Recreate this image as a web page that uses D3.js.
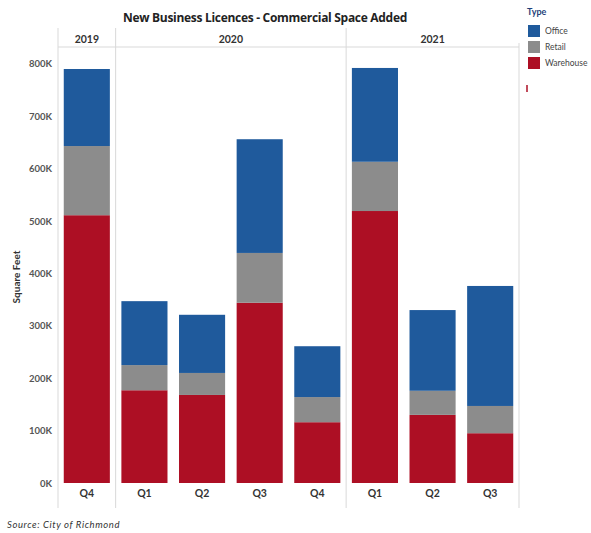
<!DOCTYPE html>
<html>
<head>
<meta charset="utf-8">
<script src="https://cdn.jsdelivr.net/npm/d3@7"></script>
<style>
  html, body { margin: 0; padding: 0; background: #fff; }
  svg { display: block; font-family: Lato, "Open Sans", sans-serif; }
</style>
</head>
<body>
<svg id="chart" width="591" height="533"></svg>
<script>
// Commercial space added through new business licences, by quarter and type (sq ft)
const years = ["2019", "2020", "2020", "2020", "2020", "2021", "2021", "2021"];
const quarters = ["Q4", "Q1", "Q2", "Q3", "Q4", "Q1", "Q2", "Q3"];
const warehouse = [511000, 177000, 168000, 344000, 116000, 519000, 130000, 95000];
const retail = [132000, 48000, 42000, 95000, 48000, 94000, 46000, 52000];
const office = [147000, 122000, 111000, 217000, 97000, 179000, 154000, 229000];
const types = ["Office", "Retail", "Warehouse"];
const typeColors = ["#1f5a9c", "#8c8c8c", "#ad0f24"];
const yTicks = [0, 100000, 200000, 300000, 400000, 500000, 600000, 700000, 800000];

const svg = d3.select("#chart");
const plotLeft = 58, plotRight = 519, plotTop = 47, plotBottom = 483;

const rows = quarters.map((q, i) => ({
  key: i, year: years[i], quarter: q,
  Warehouse: warehouse[i], Retail: retail[i], Office: office[i]
}));

const x = d3.scaleBand().domain(rows.map(d => d.key)).range([plotLeft, plotRight]).paddingInner(0.2).paddingOuter(0.1);
const y = d3.scaleLinear().domain([0, 832000]).range([plotBottom, plotTop]);
const color = d3.scaleOrdinal().domain(types).range(typeColors);

// year pane boundaries
const yearGroups = d3.groups(rows, d => d.year).map(([yr, list]) => ({
  year: yr,
  x0: x.step() * list[0].key + plotLeft,
  x1: x.step() * (list[list.length - 1].key + 1) + plotLeft
}));

// pane frame and separators
svg.append("line").attr("x1", plotLeft).attr("x2", plotRight).attr("y1", plotTop).attr("y2", plotTop)
  .attr("stroke", "#d9d9d9").attr("stroke-width", 1);
svg.append("line").attr("x1", plotRight).attr("x2", plotRight).attr("y1", plotTop - 4).attr("y2", plotBottom + 25)
  .attr("stroke", "#d9d9d9").attr("stroke-width", 1);
yearGroups.forEach(g => {
  svg.append("line").attr("x1", g.x0).attr("x2", g.x0).attr("y1", 28).attr("y2", plotBottom + 25)
    .attr("stroke", "#d9d9d9").attr("stroke-width", 1);
  svg.append("text").attr("x", (g.x0 + g.x1) / 2).attr("y", 43)
    .attr("text-anchor", "middle").attr("font-size", 10.5).attr("font-weight", 700)
    .attr("fill", "#333").text(g.year);
});

// stacked bars
const stack = d3.stack().keys(["Warehouse", "Retail", "Office"]);
const series = stack(rows);
svg.append("g").selectAll("g").data(series).join("g")
  .attr("fill", d => color(d.key))
  .selectAll("rect").data(d => d).join("rect")
  .attr("x", d => x(d.data.key))
  .attr("width", x.bandwidth())
  .attr("y", d => y(d[1]))
  .attr("height", d => y(d[0]) - y(d[1]));

// y axis
const yAxis = d3.axisLeft(y).tickValues(yTicks).tickSize(0).tickPadding(6)
  .tickFormat(d => (d / 1000) + "K");
const ya = svg.append("g").attr("transform", `translate(${plotLeft},0)`).call(yAxis);
ya.select(".domain").remove();
ya.selectAll("text").attr("font-size", 9.5).attr("font-weight", 700).attr("fill", "#555")
  .attr("font-family", "Lato, sans-serif");

svg.append("text").attr("transform", `translate(20,${(plotTop + plotBottom) / 2 + 12}) rotate(-90)`)
  .attr("text-anchor", "middle").attr("font-size", 10).attr("font-weight", 700)
  .attr("fill", "#333").text("Square Feet");

// quarter labels
svg.append("g").selectAll("text").data(rows).join("text")
  .attr("x", d => x(d.key) + x.bandwidth() / 2).attr("y", plotBottom + 14)
  .attr("text-anchor", "middle").attr("font-size", 10.5).attr("font-weight", 700)
  .attr("fill", "#333").text(d => d.quarter);

// title
svg.append("text").attr("x", 265).attr("y", 22).attr("text-anchor", "middle")
  .attr("font-size", 12).attr("font-weight", 700).attr("fill", "#222")
  .attr("font-family", "'Open Sans', sans-serif").attr("letter-spacing", -0.3)
  .text("New Business Licences - Commercial Space Added");

// legend
const lg = svg.append("g").attr("transform", "translate(527,0)");
lg.append("text").attr("x", 0).attr("y", 15).attr("font-size", 9).attr("font-weight", 700)
  .attr("fill", "#1f3f7a").text("Type");
types.forEach((t, i) => {
  lg.append("rect").attr("x", 1).attr("y", 25 + i * 16).attr("width", 12).attr("height", 12)
    .attr("fill", color(t));
  lg.append("text").attr("x", 18).attr("y", 34 + i * 16).attr("font-size", 8.5)
    .attr("fill", "#444").text(t);
});
lg.append("line").attr("x1", 0).attr("x2", 0).attr("y1", 85).attr("y2", 92)
  .attr("stroke", "#ad0f24").attr("stroke-width", 1.5);

// source note
svg.append("text").attr("x", 7).attr("y", 528).attr("font-size", 9.5)
  .attr("font-style", "italic").attr("fill", "#333").attr("letter-spacing", 0.6)
  .text("Source: City of Richmond");
</script>
</body>
</html>
